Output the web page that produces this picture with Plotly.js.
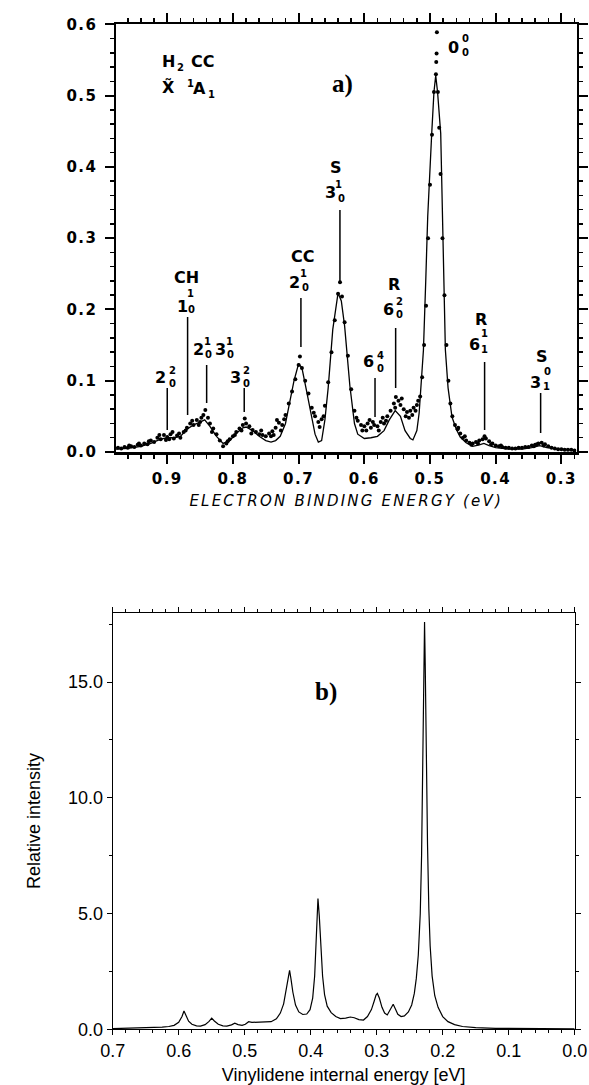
<!DOCTYPE html>
<html><head><meta charset="utf-8">
<script src="https://cdn.plot.ly/plotly-3.0.1.min.js"></script>
<style>
html,body{margin:0;padding:0;background:#fff}
#chart{width:589px;height:1085px}
g.xtick text, g.ytick text {letter-spacing:1.5px}
.g-xtitle text {letter-spacing:2.2px}
</style></head><body><div id="chart"></div><script>
// ---- panel a) experimental photoelectron points ----
const expX = [0.975,0.970,0.965,0.960,0.955,0.950,0.945,0.940,0.935,0.930,0.925,0.920,0.915,0.910,0.905,0.900,0.895,0.890,0.885,0.880,0.875,0.870,0.865,0.860,0.855,0.850,0.845,0.842,0.838,0.835,0.830,0.825,0.820,0.815,0.810,0.805,0.800,0.795,0.790,0.785,0.782,0.780,0.775,0.770,0.765,0.760,0.755,0.750,0.745,0.740,0.735,0.730,0.725,0.720,0.715,0.710,0.705,0.700,0.698,0.695,0.690,0.685,0.680,0.675,0.670,0.665,0.660,0.655,0.650,0.645,0.640,0.637,0.634,0.630,0.625,0.620,0.615,0.610,0.605,0.600,0.595,0.590,0.585,0.580,0.575,0.570,0.565,0.560,0.555,0.552,0.548,0.545,0.540,0.535,0.530,0.525,0.520,0.515,0.512,0.509,0.506,0.503,0.500,0.497,0.494,0.491,0.4905,0.4900,0.4895,0.488,0.486,0.484,0.481,0.478,0.475,0.472,0.469,0.466,0.462,0.458,0.454,0.450,0.445,0.440,0.435,0.430,0.425,0.420,0.415,0.410,0.405,0.400,0.395,0.390,0.385,0.380,0.375,0.370,0.365,0.360,0.355,0.350,0.345,0.340,0.335,0.330,0.325,0.320,0.315,0.310,0.305,0.300,0.295,0.290,0.285,0.280,
  0.668,0.662,0.603,0.592,0.578,0.572,0.553,0.543,0.532,0.522,0.518,0.727,0.733,0.742,0.852,0.848,0.872,0.892,0.902,0.787,0.797,
  0.958,0.943,0.928,0.912,0.897,0.882,0.862,0.832,0.808,0.772,0.757,0.738,0.722,0.677,0.612,0.597,0.587,0.567,0.537,0.527,0.457,0.447,0.437,0.427,0.417,0.407,0.392,0.342,0.337,0.327];
const expY = [0.006,0.005,0.007,0.006,0.008,0.007,0.010,0.009,0.012,0.011,0.016,0.014,0.020,0.018,0.024,0.021,0.025,0.019,0.023,0.020,0.028,0.034,0.040,0.038,0.045,0.042,0.052,0.059,0.048,0.040,0.033,0.025,0.016,0.008,0.012,0.018,0.022,0.028,0.033,0.038,0.047,0.040,0.036,0.031,0.028,0.025,0.024,0.022,0.026,0.029,0.034,0.041,0.038,0.052,0.068,0.085,0.102,0.122,0.134,0.118,0.100,0.082,0.062,0.050,0.042,0.046,0.065,0.098,0.140,0.185,0.222,0.238,0.218,0.182,0.135,0.088,0.058,0.044,0.038,0.036,0.040,0.034,0.038,0.036,0.042,0.040,0.050,0.058,0.068,0.077,0.072,0.066,0.060,0.056,0.058,0.062,0.066,0.078,0.105,0.150,0.205,0.300,0.375,0.445,0.505,0.530,0.547,0.559,0.589,0.505,0.455,0.390,0.300,0.220,0.150,0.100,0.068,0.050,0.038,0.032,0.026,0.020,0.016,0.013,0.012,0.014,0.016,0.018,0.019,0.015,0.012,0.009,0.008,0.007,0.006,0.006,0.005,0.005,0.006,0.006,0.007,0.007,0.009,0.010,0.012,0.013,0.011,0.008,0.006,0.005,0.004,0.004,0.003,0.003,0.003,0.002,
  0.035,0.050,0.030,0.045,0.030,0.048,0.062,0.075,0.048,0.058,0.072,0.030,0.045,0.022,0.038,0.048,0.030,0.028,0.017,0.030,0.024,
  0.009,0.012,0.015,0.024,0.018,0.026,0.044,0.028,0.015,0.026,0.030,0.024,0.046,0.055,0.048,0.030,0.042,0.044,0.050,0.052,0.034,0.022,0.010,0.012,0.022,0.011,0.009,0.008,0.011,0.009];
// ---- panel a) fitted simulation ----
const fitX = [0.980,0.960,0.940,0.925,0.910,0.900,0.890,0.880,0.870,0.860,0.850,0.843,0.835,0.825,0.815,0.805,0.795,0.785,0.780,0.770,0.760,0.750,0.742,0.735,0.728,0.720,0.714,0.707,0.700,0.695,0.688,0.680,0.675,0.670,0.665,0.660,0.655,0.648,0.640,0.635,0.630,0.622,0.615,0.610,0.600,0.590,0.580,0.570,0.562,0.553,0.545,0.538,0.530,0.526,0.520,0.5165,0.5137,0.510,0.5065,0.5035,0.4974,0.494,0.4913,0.4885,0.4837,0.4810,0.4795,0.4766,0.4725,0.4665,0.460,0.454,0.445,0.435,0.425,0.418,0.410,0.400,0.380,0.360,0.345,0.333,0.322,0.305,0.280];
const fitY = [0.004,0.005,0.008,0.012,0.018,0.020,0.020,0.022,0.032,0.038,0.042,0.045,0.036,0.022,0.012,0.016,0.026,0.034,0.035,0.030,0.022,0.016,0.014,0.016,0.022,0.040,0.068,0.100,0.124,0.118,0.086,0.045,0.025,0.014,0.016,0.045,0.090,0.172,0.223,0.212,0.177,0.093,0.040,0.025,0.019,0.020,0.022,0.030,0.045,0.058,0.050,0.030,0.019,0.017,0.030,0.055,0.096,0.143,0.240,0.330,0.447,0.505,0.528,0.505,0.447,0.330,0.270,0.143,0.090,0.049,0.032,0.021,0.013,0.008,0.010,0.012,0.009,0.006,0.004,0.004,0.006,0.009,0.006,0.004,0.003];
// ---- panel b) calculated spectrum ----
const simX = [0.700,0.680,0.660,0.640,0.625,0.615,0.607,0.600,0.595,0.592,0.589,0.585,0.580,0.573,0.567,0.560,0.554,0.550,0.546,0.540,0.533,0.527,0.520,0.515,0.510,0.504,0.499,0.494,0.489,0.482,0.470,0.460,0.452,0.446,0.441,0.437,0.434,0.432,0.430,0.427,0.423,0.418,0.412,0.406,0.401,0.397,0.394,0.392,0.390,0.389,0.387,0.385,0.382,0.379,0.375,0.369,0.362,0.355,0.347,0.340,0.334,0.327,0.320,0.314,0.308,0.304,0.301,0.299,0.296,0.292,0.288,0.284,0.281,0.278,0.275,0.272,0.268,0.263,0.258,0.252,0.247,0.243,0.240,0.237,0.234,0.232,0.230,0.2285,0.2275,0.2265,0.225,0.223,0.221,0.219,0.216,0.212,0.207,0.200,0.192,0.182,0.170,0.150,0.120,0.080,0.040,0.000];
const simY = [0.03,0.04,0.06,0.07,0.09,0.12,0.17,0.30,0.55,0.79,0.62,0.35,0.22,0.15,0.14,0.20,0.34,0.48,0.36,0.22,0.15,0.14,0.19,0.26,0.20,0.17,0.22,0.33,0.30,0.30,0.30,0.33,0.45,0.70,1.1,1.7,2.3,2.55,2.2,1.6,1.05,0.75,0.64,0.66,0.85,1.35,2.3,3.6,5.0,5.65,4.9,3.6,2.3,1.5,1.0,0.72,0.55,0.46,0.48,0.53,0.50,0.42,0.40,0.55,0.85,1.2,1.48,1.55,1.35,0.95,0.70,0.62,0.78,0.98,1.08,0.90,0.65,0.55,0.58,0.75,1.05,1.55,2.2,3.2,5.0,7.5,11.5,15.5,17.6,15.8,12.0,8.0,5.2,3.6,2.3,1.45,0.95,0.55,0.33,0.20,0.12,0.07,0.04,0.03,0.02,0.02];

const W = 589, H = 1085;
const px = v => v / W, py = v => 1 - v / H;

const traces = [
  {x: expX, y: expY, xaxis: 'x', yaxis: 'y', type: 'scatter', mode: 'markers',
   marker: {color: '#000', size: 4}, hoverinfo: 'skip'},
  {x: fitX, y: fitY, xaxis: 'x', yaxis: 'y', type: 'scatter', mode: 'lines',
   line: {color: '#000', width: 1.3}, hoverinfo: 'skip'},
  {x: simX, y: simY, xaxis: 'x2', yaxis: 'y2', type: 'scatter', mode: 'lines',
   line: {color: '#000', width: 1.2}, hoverinfo: 'skip'}
];

// text labels: [text, x px, y px, size]
const B = 'DejaVu Sans';
const labelSpec = [
  ['H',168,61.5,16],['2',180,67.5,10],['CC',202.5,61.5,16],
  ['X\u0303',168,87,16],['1',190,84,10],['A',199,88.5,16],['1',211,94,10],
  ['2',160,377,16],['2',172.5,370.5,10],['0',172.5,383,10],
  ['CH',186,277.5,16],['1',182.7,306.7,16],['1',190.5,293,10],['0',191,309,10],
  ['2',198,350,16],['1',207,341,10],['0',208,354,10],['3',220,350,16],['1',229,341,10],['0',230,354,10],
  ['3',235,377,16],['2',246,370.5,10],['0',246,383,10],
  ['CC',302,256,16],['2',294.7,282,16],['1',303.5,273,10],['0',305,287,10],
  ['S',336,168,16],['3',330,193,16],['1',338.5,184,10],['0',341.7,198,10],
  ['6',368,362,16],['4',380,355,10],['0',380,368,10],
  ['R',394,284,16],['6',388,309,16],['2',399.5,301.5,10],['0',399.5,315,10],
  ['R',481,319,16],['6',475,344,16],['1',484.3,333,10],['1',484.3,350,10],
  ['S',541.7,356.7,16],['3',535,382,16],['0',547.5,371,10],['1',546,387,10],
  ['0',453,47.5,16],['0',465,38,10],['0',465,52.5,10]
];
const annotations = labelSpec.map(s => ({
  text: s[0], xref: 'paper', yref: 'paper', x: px(s[1]), y: py(s[2]),
  xanchor: 'center', yanchor: 'middle', showarrow: false,
  font: {family: B, size: s[3], weight: 'bold', color: '#000'}
}));
annotations.push({text: 'a)', xref: 'paper', yref: 'paper', x: px(342.5), y: py(84.5),
  xanchor: 'center', yanchor: 'middle', showarrow: false,
  font: {family: 'Liberation Serif', size: 25, weight: 'bold', color: '#000'}});
annotations.push({text: 'b)', xref: 'paper', yref: 'paper', x: px(326), y: py(692),
  xanchor: 'center', yanchor: 'middle', showarrow: false,
  font: {family: 'Liberation Serif', size: 25, weight: 'bold', color: '#000'}});

// leader lines: [energy, top px, bottom px]
const leaders = [[0.90,388,430],[0.869,317,415],[0.840,365,403],[0.7828,388,412],[0.6965,298,347],
  [0.6371,210,282],[0.5837,378,417],[0.5523,328,388],[0.4169,362,430],[0.3316,393,433]];
const shapes = leaders.map(l => ({type: 'line', xref: 'x', yref: 'paper',
  x0: l[0], x1: l[0], y0: py(l[1]), y1: py(l[2]), line: {color: '#000', width: 1.5}}));

const topTickFont = {family: B, size: 15, weight: 'bold', color: '#000'};
const botFont = {family: 'Liberation Sans', size: 18, color: '#000'};

const layout = {
  width: W, height: H, margin: {l: 0, r: 0, t: 0, b: 0},
  paper_bgcolor: '#fff', plot_bgcolor: '#fff', showlegend: false,
  font: {color: '#000'},
  xaxis: {domain: [px(116), px(576.5)], anchor: 'y', range: [0.978, 0.277],
    showline: true, linewidth: 2.5, linecolor: '#000', mirror: 'ticks', showgrid: false, zeroline: false,
    ticks: 'outside', ticklen: 9, tickwidth: 2, tickcolor: '#000', tick0: 0.3, dtick: 0.1, tickformat: '.1f',
    minor: {dtick: 0.02, ticks: 'outside', ticklen: 4, tickwidth: 1.5, tickcolor: '#000', showgrid: false},
    tickfont: topTickFont, ticklabelstandoff: 2,
    title: {text: 'ELECTRON BINDING ENERGY (eV)', standoff: 9,
      font: {family: B, size: 15, style: 'italic', color: '#000'}}},
  yaxis: {domain: [py(452), py(24.3)], anchor: 'x', range: [0, 0.6],
    showline: true, linewidth: 2.5, linecolor: '#000', mirror: 'ticks', showgrid: false, zeroline: false,
    ticks: 'outside', ticklen: 9, tickwidth: 2, tickcolor: '#000', tick0: 0, dtick: 0.1, tickformat: '.1f',
    minor: {dtick: 0.02, ticks: 'outside', ticklen: 4, tickwidth: 1.5, tickcolor: '#000', showgrid: false},
    tickfont: topTickFont, ticklabelstandoff: 4},
  xaxis2: {domain: [px(112.7), px(574.7)], anchor: 'y2', range: [0.7, 0.0],
    showline: true, linewidth: 1, linecolor: '#000', mirror: 'ticks', showgrid: false, zeroline: false,
    ticks: 'outside', ticklen: 5, tickwidth: 1, tickcolor: '#000', tick0: 0, dtick: 0.1, tickformat: '.1f',
    minor: {dtick: 0.02, ticks: 'outside', ticklen: 3, tickwidth: 1, tickcolor: '#000', showgrid: false},
    tickfont: botFont,
    title: {text: 'Vinylidene internal energy [eV]', standoff: 8, font: botFont}},
  yaxis2: {domain: [py(1029.3), py(612.7)], anchor: 'x2', range: [0, 18],
    showline: true, linewidth: 1, linecolor: '#000', mirror: 'ticks', showgrid: false, zeroline: false,
    ticks: 'outside', ticklen: 5, tickwidth: 1, tickcolor: '#000', tick0: 0, dtick: 5, tickformat: '.1f',
    minor: {dtick: 2.5, ticks: 'outside', ticklen: 3, tickwidth: 1, tickcolor: '#000', showgrid: false},
    tickfont: botFont,
    title: {text: 'Relative intensity', standoff: 22, font: botFont}},
  annotations: annotations,
  shapes: shapes
};

Plotly.newPlot('chart', traces, layout, {staticPlot: true, displayModeBar: false});
</script></body></html>
